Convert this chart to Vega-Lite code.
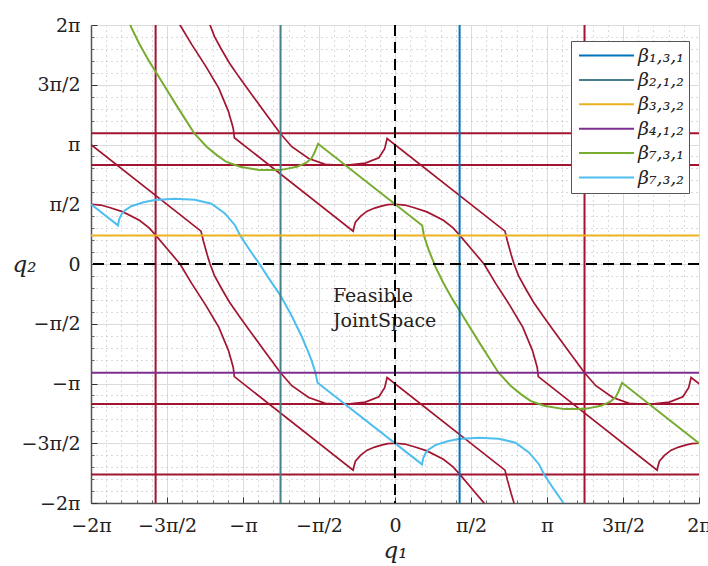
{
 "$schema": "https://vega.github.io/schema/vega-lite/v6.json",
 "width": 608, "height": 478,
 "autosize": {"type": "none"},
 "padding": {"left": 91, "top": 25, "right": 9, "bottom": 63},
 "background": "white",
 "config": {"view": {"stroke": null}, "font": "DejaVu Serif"},
 "resolve": {"axis": {"x": "independent", "y": "independent"}},
 "datasets": {
  "red": [
   {"s":"F1","q1":-4.948,"q2":7.043},{"s":"F1","q1":-4.723,"q2":6.703},{"s":"F1","q1":-4.443,"q2":6.283},{"s":"F1","q1":-4.203,"q2":5.773},{"s":"F1","q1":-3.913,"q2":5.203},{"s":"F1","q1":-3.643,"q2":4.623},{"s":"F1","q1":-3.443,"q2":4.013},{"s":"F1","q1":-3.343,"q2":3.563},{"s":"F1","q1":-3.321,"q2":3.321},{"s":"F1","q1":-0.865,"q2":0.864},{"s":"F1","q1":-0.845,"q2":0.98},{"s":"F1","q1":-0.818,"q2":1.10},{"s":"F1","q1":-0.714,"q2":1.25},{"s":"F1","q1":-0.576,"q2":1.39},{"s":"F1","q1":-0.42,"q2":1.47},{"s":"F1","q1":-0.3,"q2":1.515},{"s":"F1","q1":-0.15,"q2":1.56},{"s":"F1","q1":0,"q2":1.571},{"s":"F1","q1":0.2,"q2":1.55},{"s":"F1","q1":0.4,"q2":1.48},{"s":"F1","q1":0.66,"q2":1.37},{"s":"F1","q1":1.0,"q2":1.15},{"s":"F1","q1":1.2,"q2":0.95},{"s":"F1","q1":1.335,"q2":0.76},{"s":"F1","q1":1.56,"q2":0.42},{"s":"F1","q1":1.84,"q2":0.0},{"s":"F1","q1":2.08,"q2":-0.51},{"s":"F1","q1":2.37,"q2":-1.08},{"s":"F1","q1":2.64,"q2":-1.66},{"s":"F1","q1":2.84,"q2":-2.27},{"s":"F1","q1":2.94,"q2":-2.72},{"s":"F1","q1":2.962,"q2":-2.962},{"s":"F1","q1":5.418,"q2":-5.419},{"s":"F1","q1":5.438,"q2":-5.303},{"s":"F1","q1":5.465,"q2":-5.183},{"s":"F1","q1":5.569,"q2":-5.033},{"s":"F1","q1":5.707,"q2":-4.893},{"s":"F1","q1":5.863,"q2":-4.813},{"s":"F1","q1":5.983,"q2":-4.768},{"s":"F1","q1":6.133,"q2":-4.723},{"s":"F1","q1":6.283,"q2":-4.712},
   {"s":"F2","q1":-6.283,"q2":1.571},{"s":"F2","q1":-6.083,"q2":1.55},{"s":"F2","q1":-5.883,"q2":1.48},{"s":"F2","q1":-5.623,"q2":1.37},{"s":"F2","q1":-5.283,"q2":1.15},{"s":"F2","q1":-5.083,"q2":0.95},{"s":"F2","q1":-4.948,"q2":0.76},{"s":"F2","q1":-4.723,"q2":0.42},{"s":"F2","q1":-4.443,"q2":0.0},{"s":"F2","q1":-4.203,"q2":-0.51},{"s":"F2","q1":-3.913,"q2":-1.08},{"s":"F2","q1":-3.643,"q2":-1.66},{"s":"F2","q1":-3.443,"q2":-2.27},{"s":"F2","q1":-3.343,"q2":-2.72},{"s":"F2","q1":-3.321,"q2":-2.962},{"s":"F2","q1":-0.865,"q2":-5.419},{"s":"F2","q1":-0.845,"q2":-5.303},{"s":"F2","q1":-0.818,"q2":-5.183},{"s":"F2","q1":-0.714,"q2":-5.033},{"s":"F2","q1":-0.576,"q2":-4.893},{"s":"F2","q1":-0.42,"q2":-4.813},{"s":"F2","q1":-0.3,"q2":-4.768},{"s":"F2","q1":-0.15,"q2":-4.723},{"s":"F2","q1":0,"q2":-4.712},{"s":"F2","q1":0.2,"q2":-4.733},{"s":"F2","q1":0.4,"q2":-4.803},{"s":"F2","q1":0.66,"q2":-4.913},{"s":"F2","q1":1.0,"q2":-5.133},{"s":"F2","q1":1.2,"q2":-5.333},{"s":"F2","q1":1.335,"q2":-5.523},{"s":"F2","q1":1.56,"q2":-5.863},{"s":"F2","q1":1.84,"q2":-6.283},{"s":"F2","q1":2.08,"q2":-6.793},
   {"s":"F3","q1":-4.01,"q2":7.147},{"s":"F3","q1":-3.963,"q2":6.903},{"s":"F3","q1":-3.883,"q2":6.533},{"s":"F3","q1":-3.823,"q2":6.283},{"s":"F3","q1":-3.733,"q2":5.983},{"s":"F3","q1":-3.583,"q2":5.633},{"s":"F3","q1":-3.423,"q2":5.283},{"s":"F3","q1":-3.233,"q2":4.933},{"s":"F3","q1":-3.033,"q2":4.583},{"s":"F3","q1":-2.833,"q2":4.233},{"s":"F3","q1":-2.633,"q2":3.883},{"s":"F3","q1":-2.366,"q2":3.425},{"s":"F3","q1":-2.133,"q2":3.083},{"s":"F3","q1":-1.783,"q2":2.773},{"s":"F3","q1":-1.443,"q2":2.618},{"s":"F3","q1":-1.183,"q2":2.6},{"s":"F3","q1":-0.933,"q2":2.608},{"s":"F3","q1":-0.613,"q2":2.653},{"s":"F3","q1":-0.333,"q2":2.793},{"s":"F3","q1":-0.213,"q2":3.033},{"s":"F3","q1":-0.163,"q2":3.30},{"s":"F3","q1":2.273,"q2":0.864},{"s":"F3","q1":2.32,"q2":0.62},{"s":"F3","q1":2.40,"q2":0.25},{"s":"F3","q1":2.46,"q2":0.0},{"s":"F3","q1":2.55,"q2":-0.3},{"s":"F3","q1":2.70,"q2":-0.65},{"s":"F3","q1":2.86,"q2":-1.0},{"s":"F3","q1":3.05,"q2":-1.35},{"s":"F3","q1":3.25,"q2":-1.7},{"s":"F3","q1":3.45,"q2":-2.05},{"s":"F3","q1":3.65,"q2":-2.4},{"s":"F3","q1":3.917,"q2":-2.858},{"s":"F3","q1":4.15,"q2":-3.2},{"s":"F3","q1":4.5,"q2":-3.51},{"s":"F3","q1":4.84,"q2":-3.665},{"s":"F3","q1":5.1,"q2":-3.683},{"s":"F3","q1":5.35,"q2":-3.675},{"s":"F3","q1":5.67,"q2":-3.63},{"s":"F3","q1":5.95,"q2":-3.49},{"s":"F3","q1":6.07,"q2":-3.25},{"s":"F3","q1":6.12,"q2":-2.983},{"s":"F3","q1":6.45,"q2":-3.313},
   {"s":"F4","q1":-6.446,"q2":3.30},{"s":"F4","q1":-4.01,"q2":0.864},{"s":"F4","q1":-3.963,"q2":0.62},{"s":"F4","q1":-3.883,"q2":0.25},{"s":"F4","q1":-3.823,"q2":0.0},{"s":"F4","q1":-3.733,"q2":-0.3},{"s":"F4","q1":-3.583,"q2":-0.65},{"s":"F4","q1":-3.423,"q2":-1.0},{"s":"F4","q1":-3.233,"q2":-1.35},{"s":"F4","q1":-3.033,"q2":-1.7},{"s":"F4","q1":-2.833,"q2":-2.05},{"s":"F4","q1":-2.633,"q2":-2.4},{"s":"F4","q1":-2.366,"q2":-2.858},{"s":"F4","q1":-2.133,"q2":-3.2},{"s":"F4","q1":-1.783,"q2":-3.51},{"s":"F4","q1":-1.443,"q2":-3.665},{"s":"F4","q1":-1.183,"q2":-3.683},{"s":"F4","q1":-0.933,"q2":-3.675},{"s":"F4","q1":-0.613,"q2":-3.63},{"s":"F4","q1":-0.333,"q2":-3.49},{"s":"F4","q1":-0.213,"q2":-3.25},{"s":"F4","q1":-0.163,"q2":-2.983},{"s":"F4","q1":2.273,"q2":-5.419},{"s":"F4","q1":2.32,"q2":-5.663},{"s":"F4","q1":2.40,"q2":-6.033},{"s":"F4","q1":2.46,"q2":-6.283},{"s":"F4","q1":2.55,"q2":-6.583}
  ],
  "beta": [
   {"beta":"β₇,₃,₁","q1":-5.72,"q2":7.297},{"beta":"β₇,₃,₁","q1":-5.687,"q2":7.034},{"beta":"β₇,₃,₁","q1":-5.583,"q2":6.639},{"beta":"β₇,₃,₁","q1":-5.444,"q2":6.199},{"beta":"β₇,₃,₁","q1":-5.283,"q2":5.783},{"beta":"β₇,₃,₁","q1":-5.083,"q2":5.333},{"beta":"β₇,₃,₁","q1":-4.927,"q2":5.013},{"beta":"β₇,₃,₁","q1":-4.733,"q2":4.613},{"beta":"β₇,₃,₁","q1":-4.533,"q2":4.203},{"beta":"β₇,₃,₁","q1":-4.333,"q2":3.803},{"beta":"β₇,₃,₁","q1":-4.143,"q2":3.425},{"beta":"β₇,₃,₁","q1":-3.893,"q2":3.083},{"beta":"β₇,₃,₁","q1":-3.683,"q2":2.863},{"beta":"β₇,₃,₁","q1":-3.483,"q2":2.683},{"beta":"β₇,₃,₁","q1":-3.202,"q2":2.555},{"beta":"β₇,₃,₁","q1":-2.788,"q2":2.468},{"beta":"β₇,₃,₁","q1":-2.374,"q2":2.468},{"beta":"β₇,₃,₁","q1":-2.028,"q2":2.555},{"beta":"β₇,₃,₁","q1":-1.833,"q2":2.663},{"beta":"β₇,₃,₁","q1":-1.723,"q2":2.783},{"beta":"β₇,₃,₁","q1":-1.656,"q2":2.951},{"beta":"β₇,₃,₁","q1":-1.59,"q2":3.16},{"beta":"β₇,₃,₁","q1":0.563,"q2":1.014},{"beta":"β₇,₃,₁","q1":0.596,"q2":0.751},{"beta":"β₇,₃,₁","q1":0.70,"q2":0.356},{"beta":"β₇,₃,₁","q1":0.839,"q2":-0.084},{"beta":"β₇,₃,₁","q1":1.0,"q2":-0.50},{"beta":"β₇,₃,₁","q1":1.2,"q2":-0.95},{"beta":"β₇,₃,₁","q1":1.356,"q2":-1.27},{"beta":"β₇,₃,₁","q1":1.55,"q2":-1.67},{"beta":"β₇,₃,₁","q1":1.75,"q2":-2.08},{"beta":"β₇,₃,₁","q1":1.95,"q2":-2.48},{"beta":"β₇,₃,₁","q1":2.14,"q2":-2.858},{"beta":"β₇,₃,₁","q1":2.39,"q2":-3.2},{"beta":"β₇,₃,₁","q1":2.6,"q2":-3.42},{"beta":"β₇,₃,₁","q1":2.8,"q2":-3.6},{"beta":"β₇,₃,₁","q1":3.081,"q2":-3.728},{"beta":"β₇,₃,₁","q1":3.495,"q2":-3.815},{"beta":"β₇,₃,₁","q1":3.909,"q2":-3.815},{"beta":"β₇,₃,₁","q1":4.255,"q2":-3.728},{"beta":"β₇,₃,₁","q1":4.45,"q2":-3.62},{"beta":"β₇,₃,₁","q1":4.56,"q2":-3.50},{"beta":"β₇,₃,₁","q1":4.627,"q2":-3.332},{"beta":"β₇,₃,₁","q1":4.693,"q2":-3.123},{"beta":"β₇,₃,₁","q1":6.5,"q2":-4.93},
   {"beta":"β₇,₃,₂","q1":-6.283,"q2":1.571},{"beta":"β₇,₃,₂","q1":-5.725,"q2":1.015},{"beta":"β₇,₃,₂","q1":-5.70,"q2":1.18},{"beta":"β₇,₃,₂","q1":-5.65,"q2":1.31},{"beta":"β₇,₃,₂","q1":-5.586,"q2":1.409},{"beta":"β₇,₃,₂","q1":-5.45,"q2":1.52},{"beta":"β₇,₃,₂","q1":-5.2,"q2":1.625},{"beta":"β₇,₃,₂","q1":-4.965,"q2":1.68},{"beta":"β₇,₃,₂","q1":-4.551,"q2":1.718},{"beta":"β₇,₃,₂","q1":-4.137,"q2":1.69},{"beta":"β₇,₃,₂","q1":-3.793,"q2":1.586},{"beta":"β₇,₃,₂","q1":-3.516,"q2":1.33},{"beta":"β₇,₃,₂","q1":-3.308,"q2":1.02},{"beta":"β₇,₃,₂","q1":-3.2,"q2":0.751},{"beta":"β₇,₃,₂","q1":-3.0,"q2":0.36},{"beta":"β₇,₃,₂","q1":-2.80,"q2":0.0},{"beta":"β₇,₃,₂","q1":-2.6,"q2":-0.39},{"beta":"β₇,₃,₂","q1":-2.366,"q2":-0.83},{"beta":"β₇,₃,₂","q1":-2.137,"q2":-1.36},{"beta":"β₇,₃,₂","q1":-1.93,"q2":-1.90},{"beta":"β₇,₃,₂","q1":-1.80,"q2":-2.29},{"beta":"β₇,₃,₂","q1":-1.723,"q2":-2.542},{"beta":"β₇,₃,₂","q1":-1.65,"q2":-2.83},{"beta":"β₇,₃,₂","q1":-1.6,"q2":-3.12},{"beta":"β₇,₃,₂","q1":0.558,"q2":-5.268},{"beta":"β₇,₃,₂","q1":0.583,"q2":-5.103},{"beta":"β₇,₃,₂","q1":0.633,"q2":-4.973},{"beta":"β₇,₃,₂","q1":0.697,"q2":-4.874},{"beta":"β₇,₃,₂","q1":0.833,"q2":-4.763},{"beta":"β₇,₃,₂","q1":1.083,"q2":-4.658},{"beta":"β₇,₃,₂","q1":1.318,"q2":-4.603},{"beta":"β₇,₃,₂","q1":1.732,"q2":-4.565},{"beta":"β₇,₃,₂","q1":2.146,"q2":-4.593},{"beta":"β₇,₃,₂","q1":2.49,"q2":-4.697},{"beta":"β₇,₃,₂","q1":2.767,"q2":-4.953},{"beta":"β₇,₃,₂","q1":2.975,"q2":-5.263},{"beta":"β₇,₃,₂","q1":3.083,"q2":-5.532},{"beta":"β₇,₃,₂","q1":3.283,"q2":-5.923},{"beta":"β₇,₃,₂","q1":3.483,"q2":-6.283},{"beta":"β₇,₃,₂","q1":3.683,"q2":-6.673}
  ],
  "vlines": [{"beta":"β₁,₃,₁","q1":1.335},{"beta":"β₂,₁,₂","q1":-2.366}],
  "hlines": [{"beta":"β₃,₃,₂","q2":0.751},{"beta":"β₄,₁,₂","q2":-2.858}],
  "redv": [{"q1":-4.948},{"q1":3.917}],
  "redh": [{"q2":3.438},{"q2":2.605},{"q2":-3.678},{"q2":-5.532}],
  "zero": [{"q1":0,"q2":0}],
  "note": [{"q1":-1.282,"q2":-0.597,"label":"Feasible\nJointSpace"}]
 },
 "layer": [
  {
   "data": {"name": "note"},
   "mark": {"type": "text", "align": "left", "baseline": "top", "font": "DejaVu Serif", "fontSize": 19, "lineBreak": "\n", "lineHeight": 25.6, "color": "#222"},
   "encoding": {
    "x": {"field": "q1", "type": "quantitative", "scale": {"domain": [-6.283185307179586, 6.283185307179586], "nice": false, "zero": false},
     "axis": {"orient": "bottom", "values": [-5.969026041820607,-5.654866776461628,-5.340707511102648,-5.026548245743669,-4.39822971502571,-4.084070449666731,-3.769911184307752,-3.455751918948773,-2.827433388230814,-2.5132741228718345,-2.199114857512855,-1.8849555921538759,-1.2566370614359172,-0.9424777960769379,-0.6283185307179586,-0.3141592653589793,0.3141592653589793,0.6283185307179586,0.9424777960769379,1.2566370614359172,1.8849555921538759,2.199114857512855,2.5132741228718345,2.827433388230814,3.455751918948773,3.769911184307752,4.084070449666731,4.39822971502571,5.026548245743669,5.340707511102648,5.654866776461628,5.969026041820607],
      "grid": true, "gridColor": "#b4b4b4", "gridDash": [1, 4], "gridWidth": 1, "labels": false, "ticks": true, "tickSize": -3, "tickColor": "#666", "domain": false, "title": null}},
    "y": {"field": "q2", "type": "quantitative", "scale": {"domain": [-6.283185307179586, 6.283185307179586], "nice": false, "zero": false},
     "axis": {"orient": "left", "values": [-5.969026041820607,-5.654866776461628,-5.340707511102648,-5.026548245743669,-4.39822971502571,-4.084070449666731,-3.769911184307752,-3.455751918948773,-2.827433388230814,-2.5132741228718345,-2.199114857512855,-1.8849555921538759,-1.2566370614359172,-0.9424777960769379,-0.6283185307179586,-0.3141592653589793,0.3141592653589793,0.6283185307179586,0.9424777960769379,1.2566370614359172,1.8849555921538759,2.199114857512855,2.5132741228718345,2.827433388230814,3.455751918948773,3.769911184307752,4.084070449666731,4.39822971502571,5.026548245743669,5.340707511102648,5.654866776461628,5.969026041820607],
      "grid": true, "gridColor": "#b4b4b4", "gridDash": [1, 4], "gridWidth": 1, "labels": false, "ticks": true, "tickSize": -3, "tickColor": "#666", "domain": false, "title": null}},
    "text": {"field": "label"}
   }
  },
  {
   "data": {"name": "red"},
   "mark": {"type": "line", "color": "#A2142F", "strokeWidth": 1.7, "clip": true},
   "encoding": {
    "x": {"field": "q1", "type": "quantitative",
     "scale": {"domain": [-6.283185307179586, 6.283185307179586], "nice": false, "zero": false},
     "axis": {
      "orient": "bottom",
      "values": [-6.283185307179586,-4.71238898038469,-3.141592653589793,-1.5707963267948966,0,1.5707963267948966,3.141592653589793,4.71238898038469,6.283185307179586],
      "title": "q₁",
      "grid": true, "gridColor": "#dcdcdc", "gridWidth": 1,
      "tickSize": -6, "tickColor": "#333", "tickWidth": 1,
      "domainColor": "#555", "domainWidth": 1.5,
      "labelExpr": "['−2π','−3π/2','−π','−π/2','0','π/2','π','3π/2','2π'][round(datum.value*2/PI)+4]",
      "labelFont": "DejaVu Serif", "labelFontSize": 19,
      "labelColor": "#222", "labelPadding": 28, "labelBaseline": "middle", "labelOverlap": false, "labelFlush": false, "labelBound": false,
      "titleFont": "DejaVu Serif", "titleFontStyle": "italic", "titleFontWeight": "normal", "titleFontSize": 23, "titleColor": "#222",
      "titleX": 304, "titleY": 47, "titleAlign": "center", "titleBaseline": "middle", "titleAngle": 0
     }
    },
    "y": {"field": "q2", "type": "quantitative",
     "scale": {"domain": [-6.283185307179586, 6.283185307179586], "nice": false, "zero": false},
     "axis": {
      "orient": "left",
      "values": [-6.283185307179586,-4.71238898038469,-3.141592653589793,-1.5707963267948966,0,1.5707963267948966,3.141592653589793,4.71238898038469,6.283185307179586],
      "title": "q₂",
      "grid": true, "gridColor": "#dcdcdc", "gridWidth": 1,
      "tickSize": -6, "tickColor": "#333", "tickWidth": 1,
      "domainColor": "#555", "domainWidth": 1.5,
      "labelExpr": "['−2π','−3π/2','−π','−π/2','0','π/2','π','3π/2','2π'][round(datum.value*2/PI)+4]",
      "labelFont": "DejaVu Serif", "labelFontSize": 19,
      "labelColor": "#222", "labelPadding": 17, "labelOverlap": false, "labelFlush": false, "labelBound": false,
      "titleFont": "DejaVu Serif", "titleFontStyle": "italic", "titleFontWeight": "normal", "titleFontSize": 23, "titleColor": "#222",
      "titleX": -67, "titleY": 239, "titleAlign": "center", "titleBaseline": "middle", "titleAngle": 0
     }
    },
    "detail": {"field": "s"}
   }
  },
  {
   "data": {"name": "redv"},
   "mark": {"type": "rule", "color": "#A2142F", "strokeWidth": 2},
   "encoding": {"x": {"field": "q1", "type": "quantitative", "axis": null, "scale": {"domain": [-6.283185307179586, 6.283185307179586], "nice": false, "zero": false}}}
  },
  {
   "data": {"name": "redh"},
   "mark": {"type": "rule", "color": "#A2142F", "strokeWidth": 2},
   "encoding": {"y": {"field": "q2", "type": "quantitative", "axis": null, "scale": {"domain": [-6.283185307179586, 6.283185307179586], "nice": false, "zero": false}}}
  },
  {
   "data": {"name": "beta"},
   "mark": {"type": "line", "strokeWidth": 2, "clip": true},
   "encoding": {
    "x": {"field": "q1", "type": "quantitative", "axis": null, "scale": {"domain": [-6.283185307179586, 6.283185307179586], "nice": false, "zero": false}},
    "y": {"field": "q2", "type": "quantitative", "axis": null, "scale": {"domain": [-6.283185307179586, 6.283185307179586], "nice": false, "zero": false}},
    "color": {"field": "beta", "type": "nominal",
     "scale": {"domain": ["β₁,₃,₁","β₂,₁,₂","β₃,₃,₂","β₄,₁,₂","β₇,₃,₁","β₇,₃,₂"], "range": ["#0072BD","#487E8A","#EDB120","#7E2F8E","#77AC30","#4DBEEE"]},
     "legend": {"orient": "none", "legendX": 480, "legendY": 16, "title": null,
      "symbolType": "M-5,0H5", "symbolSize": 121, "symbolStrokeWidth": 2, "symbolOffset": 21,
      "labelOffset": 22, "labelFont": "DejaVu Serif", "labelFontStyle": "italic", "labelFontSize": 19, "labelColor": "#222", "labelLimit": 200,
      "fillColor": "white", "strokeColor": "#555", "padding": 5, "rowPadding": 4.4, "cornerRadius": 0}
    }
   }
  },
  {
   "data": {"name": "vlines"},
   "mark": {"type": "rule", "strokeWidth": 2},
   "encoding": {
    "x": {"field": "q1", "type": "quantitative", "axis": null, "scale": {"domain": [-6.283185307179586, 6.283185307179586], "nice": false, "zero": false}},
    "color": {"field": "beta", "type": "nominal", "scale": {"domain": ["β₁,₃,₁","β₂,₁,₂","β₃,₃,₂","β₄,₁,₂","β₇,₃,₁","β₇,₃,₂"], "range": ["#0072BD","#487E8A","#EDB120","#7E2F8E","#77AC30","#4DBEEE"]}}
   }
  },
  {
   "data": {"name": "hlines"},
   "mark": {"type": "rule", "strokeWidth": 2},
   "encoding": {
    "y": {"field": "q2", "type": "quantitative", "axis": null, "scale": {"domain": [-6.283185307179586, 6.283185307179586], "nice": false, "zero": false}},
    "color": {"field": "beta", "type": "nominal", "scale": {"domain": ["β₁,₃,₁","β₂,₁,₂","β₃,₃,₂","β₄,₁,₂","β₇,₃,₁","β₇,₃,₂"], "range": ["#0072BD","#487E8A","#EDB120","#7E2F8E","#77AC30","#4DBEEE"]}}
   }
  },
  {
   "data": {"name": "zero"},
   "mark": {"type": "rule", "color": "black", "strokeWidth": 2, "strokeDash": [11, 6]},
   "encoding": {"x": {"field": "q1", "type": "quantitative", "axis": null, "scale": {"domain": [-6.283185307179586, 6.283185307179586], "nice": false, "zero": false}}}
  },
  {
   "data": {"name": "zero"},
   "mark": {"type": "rule", "color": "black", "strokeWidth": 2, "strokeDash": [11, 6]},
   "encoding": {"y": {"field": "q2", "type": "quantitative", "axis": null, "scale": {"domain": [-6.283185307179586, 6.283185307179586], "nice": false, "zero": false}}}
  }
 ]
}
